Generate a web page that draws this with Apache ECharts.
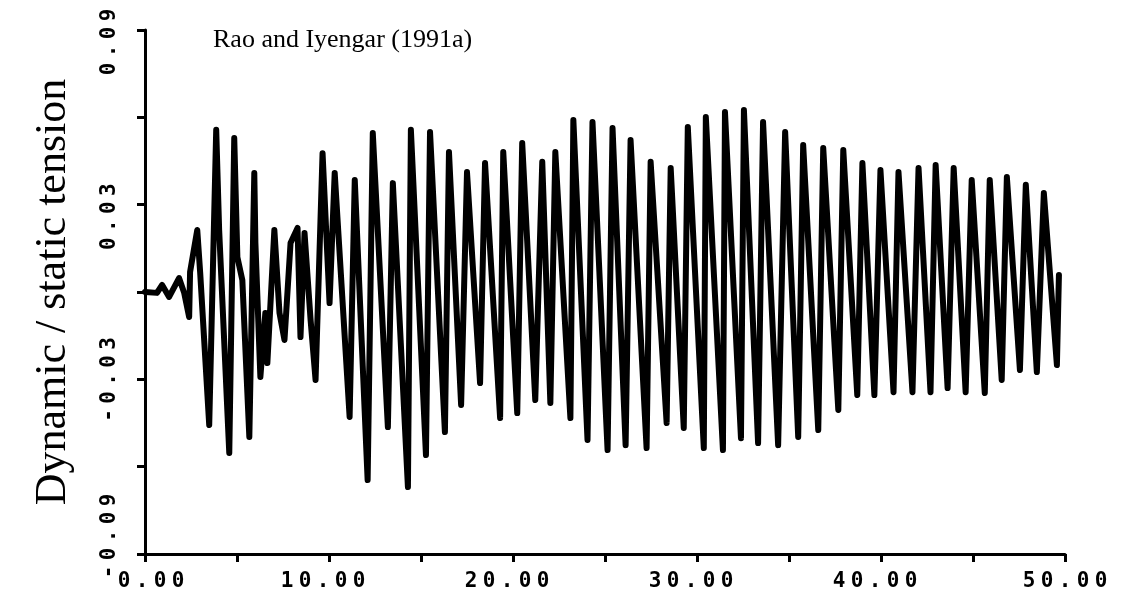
<!DOCTYPE html>
<html>
<head>
<meta charset="utf-8">
<title>Dynamic / static tension</title>
<script src="https://cdn.jsdelivr.net/npm/echarts@6/dist/echarts.min.js"></script>
<style>
  html, body { margin: 0; padding: 0; background: #fff; }
  #chart { width: 1124px; height: 607px; }
</style>
</head>
<body>
<div id="chart"></div>
<script>
// Time (s) of successive turning points of the record
const timeS = [
  0.00, 0.65, 0.93, 1.31, 1.85, 2.13, 2.40, 2.45, 2.84, 3.00,
  3.49, 3.87, 4.03, 4.58, 4.85, 5.02, 5.29, 5.67, 5.94, 6.00,
  6.27, 6.54, 6.65, 7.03, 7.31, 7.58, 7.91, 8.29, 8.45, 8.67,
  9.00, 9.27, 9.65, 10.03, 10.31, 11.12, 11.40, 12.10, 12.38, 13.20,
  13.47, 14.29, 14.45, 15.27, 15.49, 16.30, 16.52, 17.18, 17.50, 18.21,
  18.48, 19.30, 19.47, 20.23, 20.50, 21.21, 21.59, 22.03, 22.30, 23.12,
  23.28, 24.05, 24.32, 25.14, 25.41, 26.12, 26.39, 27.26, 27.48, 28.35,
  28.57, 29.28, 29.50, 30.37, 30.48, 31.41, 31.52, 32.39, 32.55, 33.32,
  33.59, 34.41, 34.79, 35.50, 35.77, 36.59, 36.86, 37.68, 37.95, 38.71,
  38.99, 39.64, 39.97, 40.68, 40.95, 41.71, 42.04, 42.69, 42.97, 43.62,
  43.95, 44.60, 44.93, 45.64, 45.91, 46.56, 46.84, 47.55, 47.87, 48.47,
  48.85, 49.56, 49.67
];

// Dynamic / static tension ratio at those points
const tensionRatio = [
  0.0000, -0.0003, 0.0024, -0.0017, 0.0048, -0.0003, -0.0086, 0.0069, 0.0213, 0.0065,
  -0.0457, 0.0557, 0.0213, -0.0553, 0.0529, 0.0120, 0.0041, -0.0498, 0.0409, 0.0168,
  -0.0292, -0.0072, -0.0244, 0.0213, -0.0072, -0.0165, 0.0168, 0.0220, -0.0155, 0.0203,
  -0.0096, -0.0302, 0.0477, -0.0038, 0.0409, -0.0429, 0.0385, -0.0646, 0.0546, -0.0464,
  0.0374, -0.0670, 0.0557, -0.0560, 0.0550, -0.0481, 0.0481, -0.0388, 0.0412, -0.0313,
  0.0443, -0.0433, 0.0481, -0.0416, 0.0512, -0.0371, 0.0447, -0.0381, 0.0481, -0.0433,
  0.0591, -0.0508, 0.0584, -0.0543, 0.0563, -0.0526, 0.0522, -0.0536, 0.0447, -0.0450,
  0.0426, -0.0467, 0.0567, -0.0536, 0.0601, -0.0543, 0.0618, -0.0502, 0.0625, -0.0519,
  0.0584, -0.0526, 0.0550, -0.0498, 0.0505, -0.0474, 0.0495, -0.0405, 0.0488, -0.0354,
  0.0443, -0.0354, 0.0419, -0.0344, 0.0412, -0.0344, 0.0426, -0.0344, 0.0436, -0.0330,
  0.0426, -0.0344, 0.0385, -0.0347, 0.0385, -0.0302, 0.0395, -0.0268, 0.0368, -0.0275,
  0.0340, -0.0251, 0.0058
];

// Axis tick labels (only every other tick carries a label)
const xTickValues = [0, 10, 20, 30, 40, 50];
const xTickLabels = ['0.00', '10.00', '20.00', '30.00', '40.00', '50.00'];
const yTickValues = [-0.09, -0.03, 0.03, 0.09];
const yTickLabels = ['-0.09', '-0.03', '0.03', '0.09'];

const titleText = 'Rao and Iyengar (1991a)';
const yAxisTitle = 'Dynamic / static tension';

const plotFont = '"DejaVu Sans Mono", "Liberation Mono", monospace';
const serifFont = '"Liberation Serif", "DejaVu Serif", serif';

// Widely spaced plotter-style digits: every character sits in its own fixed cell
function spaced(str) {
  return str.split('').map(ch => '{c|' + ch + '}').join('');
}

function lookup(values, labels, v) {
  for (let i = 0; i < values.length; i++) {
    if (Math.abs(values[i] - v) < 1e-6) return labels[i];
  }
  return null;
}

// Blank cells before / after a label nudge it along its axis
const labelLead = { '0.00': 1, '-0.09': 3 };
const labelTrail = { '0.03': 2, '0.09': 2, '10.00': 1, '20.00': 1, '30.00': 1, '40.00': 1 };

function tickText(s) {
  return '{g|}'.repeat(labelLead[s] || 0) + spaced(s) + '{g|}'.repeat(labelTrail[s] || 0);
}

const series = timeS.map((t, i) => [t, tensionRatio[i]]);

const labelRich = {
  c: {
    width: 18,
    align: 'center',
    fontFamily: plotFont,
    fontWeight: 'bold',
    fontSize: 21,
    color: '#000'
  },
  g: { width: 12 }
};

const chart = echarts.init(document.getElementById('chart'), null, { renderer: 'canvas' });

chart.setOption({
  backgroundColor: '#ffffff',
  animation: false,
  title: {
    text: titleText,
    left: 213,
    top: 27,
    padding: 0,
    textStyle: {
      fontFamily: serifFont,
      fontSize: 26,
      fontWeight: 'normal',
      color: '#000'
    }
  },
  grid: {
    left: 145,
    right: 59,
    top: 30,
    bottom: 53,
    containLabel: false,
    outerBoundsMode: 'none'
  },
  xAxis: {
    type: 'value',
    min: 0,
    max: 50,
    interval: 5,
    axisLine: { show: true, onZero: false, lineStyle: { color: '#000', width: 3 } },
    axisTick: { show: true, length: 8, lineStyle: { color: '#000', width: 3 } },
    splitLine: { show: false },
    axisLabel: {
      margin: 17,
      formatter: function (v) {
        const s = lookup(xTickValues, xTickLabels, v);
        return s ? tickText(s) : '';
      },
      rich: labelRich
    }
  },
  yAxis: {
    type: 'value',
    min: -0.09,
    max: 0.09,
    interval: 0.03,
    name: yAxisTitle,
    nameLocation: 'middle',
    nameGap: 70,
    nameTextStyle: {
      fontFamily: serifFont,
      fontSize: 44,
      color: '#000'
    },
    axisLine: { show: true, onZero: false, lineStyle: { color: '#000', width: 3 } },
    axisTick: { show: true, length: 8, lineStyle: { color: '#000', width: 3 } },
    splitLine: { show: false },
    axisLabel: {
      rotate: 90,
      margin: 25,
      formatter: function (v) {
        const s = lookup(yTickValues, yTickLabels, v);
        return s ? tickText(s) : '';
      },
      rich: labelRich
    }
  },
  series: [{
    type: 'line',
    data: series,
    showSymbol: false,
    smooth: false,
    lineStyle: { color: '#000', width: 6, join: 'round', cap: 'round' }
  }]
});
</script>
</body>
</html>
